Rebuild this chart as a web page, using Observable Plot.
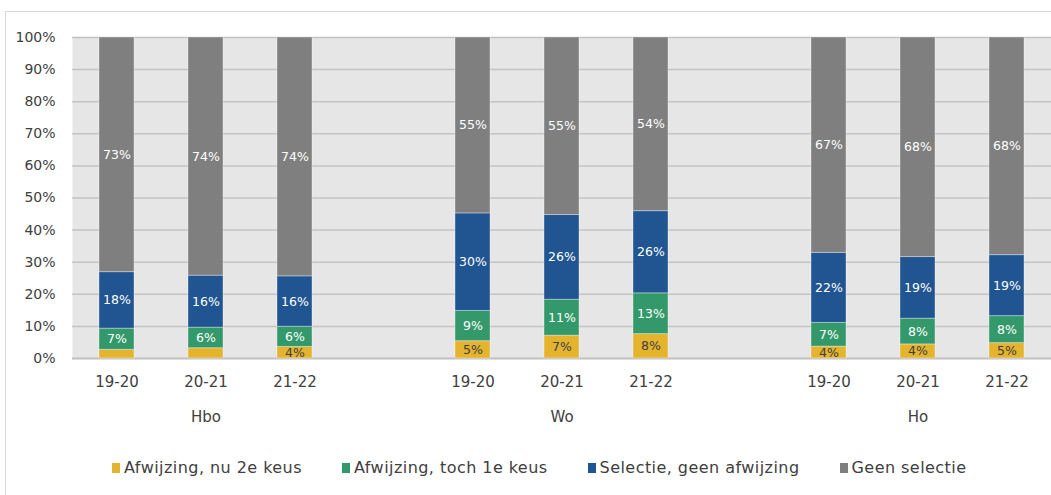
<!DOCTYPE html>
<html>
<head>
<meta charset="utf-8">
<script src="https://cdn.jsdelivr.net/npm/d3@7"></script>
<script src="https://cdn.jsdelivr.net/npm/@observablehq/plot@0.6"></script>
<style>
  html, body { margin: 0; padding: 0; background: #fff; }
  #wrap { position: relative; width: 1051px; height: 495px; overflow: hidden; font-family: "DejaVu Sans", sans-serif; }
  #border { position: absolute; left: 5px; top: 11px; width: 1100px; height: 600px; border: 1px solid #d9d9d9; box-sizing: border-box; }
  #chart { position: absolute; left: 0; top: 0; }
  #legend { position: absolute; left: 112px; top: 458px; display: flex; gap: 40px; font-size: 16px; letter-spacing: 0.45px; color: #404040; white-space: nowrap; }
  .item { display: flex; align-items: center; gap: 4px; }
  .sw { width: 8px; height: 10px; display: inline-block; }
</style>
</head>
<body>
<div id="wrap">
  <div id="border"></div>
  <div id="chart"></div>
  <div id="legend"></div>
</div>
<script>
const groups = ["Hbo", "Wo", "Ho"];
const years = ["19-20", "20-21", "21-22"];
const series = ["Afwijzing, nu 2e keus", "Afwijzing, toch 1e keus", "Selectie, geen afwijzing", "Geen selectie"];
const colors = ["#e5b42f", "#34996a", "#205592", "#7f7f7f"];
// values in %, order: Hbo 19-20, 20-21, 21-22, Wo ..., Ho ...
const afwijzingNu2e   = [2.7, 3.2, 3.6,   5.4, 7.1, 7.6,   3.7, 4.4, 4.8];
const afwijzingToch1e = [6.6, 6.4, 6.3,   9.4, 11.2, 12.7, 7.4, 8.0, 8.4];
const selectieGeenAfw = [17.6, 16.2, 15.7, 30.4, 26.4, 25.6, 21.8, 19.2, 19.0];
const geenSelectie    = [73.1, 74.2, 74.4, 54.8, 55.3, 54.1, 67.1, 68.4, 67.8];
const yTicks = [0, 10, 20, 30, 40, 50, 60, 70, 80, 90, 100];

const seriesValues = [afwijzingNu2e, afwijzingToch1e, selectieGeenAfw, geenSelectie];

// x slots: 3 bars per group, with an empty slot between groups
const slots = [];
groups.forEach((g, gi) => {
  if (gi > 0) slots.push("gap" + gi);
  years.forEach(y => slots.push(g + "|" + y));
});

const rows = [];
groups.forEach((g, gi) => {
  years.forEach((y, yi) => {
    const idx = gi * years.length + yi;
    series.forEach((s, si) => {
      rows.push({key: g + "|" + y, group: g, year: y, series: s, si, value: seriesValues[si][idx]});
    });
  });
});

const groupLabels = groups.map(g => ({key: g + "|" + years[1], label: g}));

const labelText = d => Math.round(d.value) + "%";

const chart = Plot.plot({
  width: 1051,
  height: 440,
  marginLeft: 72,
  marginRight: 0,
  marginTop: 37,
  marginBottom: 82,
  style: {fontFamily: "DejaVu Sans, sans-serif", background: "transparent", overflow: "visible"},
  x: {domain: slots, paddingInner: 0.607, paddingOuter: 0.3035, axis: null, label: null},
  y: {domain: [0, 100], axis: null, label: null},
  color: {domain: series, range: colors},
  marks: [
    Plot.frame({fill: "#e6e6e6", stroke: null}),
    Plot.ruleY(yTicks.filter(d => d > 0), {stroke: "#c3c3c3", strokeWidth: 1.5}),
    Plot.ruleY([0], {stroke: "#bfbfbf", strokeWidth: 2}),
    Plot.axisY({ticks: yTicks, label: null, tickSize: 0, tickPadding: 17, tickFormat: d => d + "%", fontSize: 14, fill: "#404040", line: true, stroke: "#d0d0d0"}),
    Plot.axisX({label: null, tickSize: 0, tickPadding: 18, fontSize: 15, fill: "#404040",
      tickFormat: d => d.startsWith("gap") ? "" : d.split("|")[1]}),
    Plot.barY(rows, {x: "key", y: "value", fill: "series", stroke: "#ffffff", strokeOpacity: 0.35, strokeWidth: 1}),
    Plot.text(rows, Plot.stackY({x: "key", y: "value", z: "series",
      text: d => (d.si === 0 && d.value >= 3.5) ? labelText(d) : "",
      fill: "#404040", fontSize: 12.5})),
    Plot.text(rows, Plot.stackY({x: "key", y: "value", z: "series",
      text: d => d.si > 0 ? labelText(d) : "",
      fill: "white", fontSize: 12.5})),
    Plot.text(groupLabels, {x: "key", text: "label", frameAnchor: "bottom", dy: 63, fontSize: 15, fill: "#404040"})
  ]
});
document.getElementById("chart").appendChild(chart);

const legend = document.getElementById("legend");
series.forEach((s, i) => {
  const it = document.createElement("div");
  it.className = "item";
  const sw = document.createElement("span");
  sw.className = "sw";
  sw.style.background = colors[i];
  const tx = document.createElement("span");
  tx.textContent = s;
  it.appendChild(sw);
  it.appendChild(tx);
  legend.appendChild(it);
});
</script>
</body>
</html>
